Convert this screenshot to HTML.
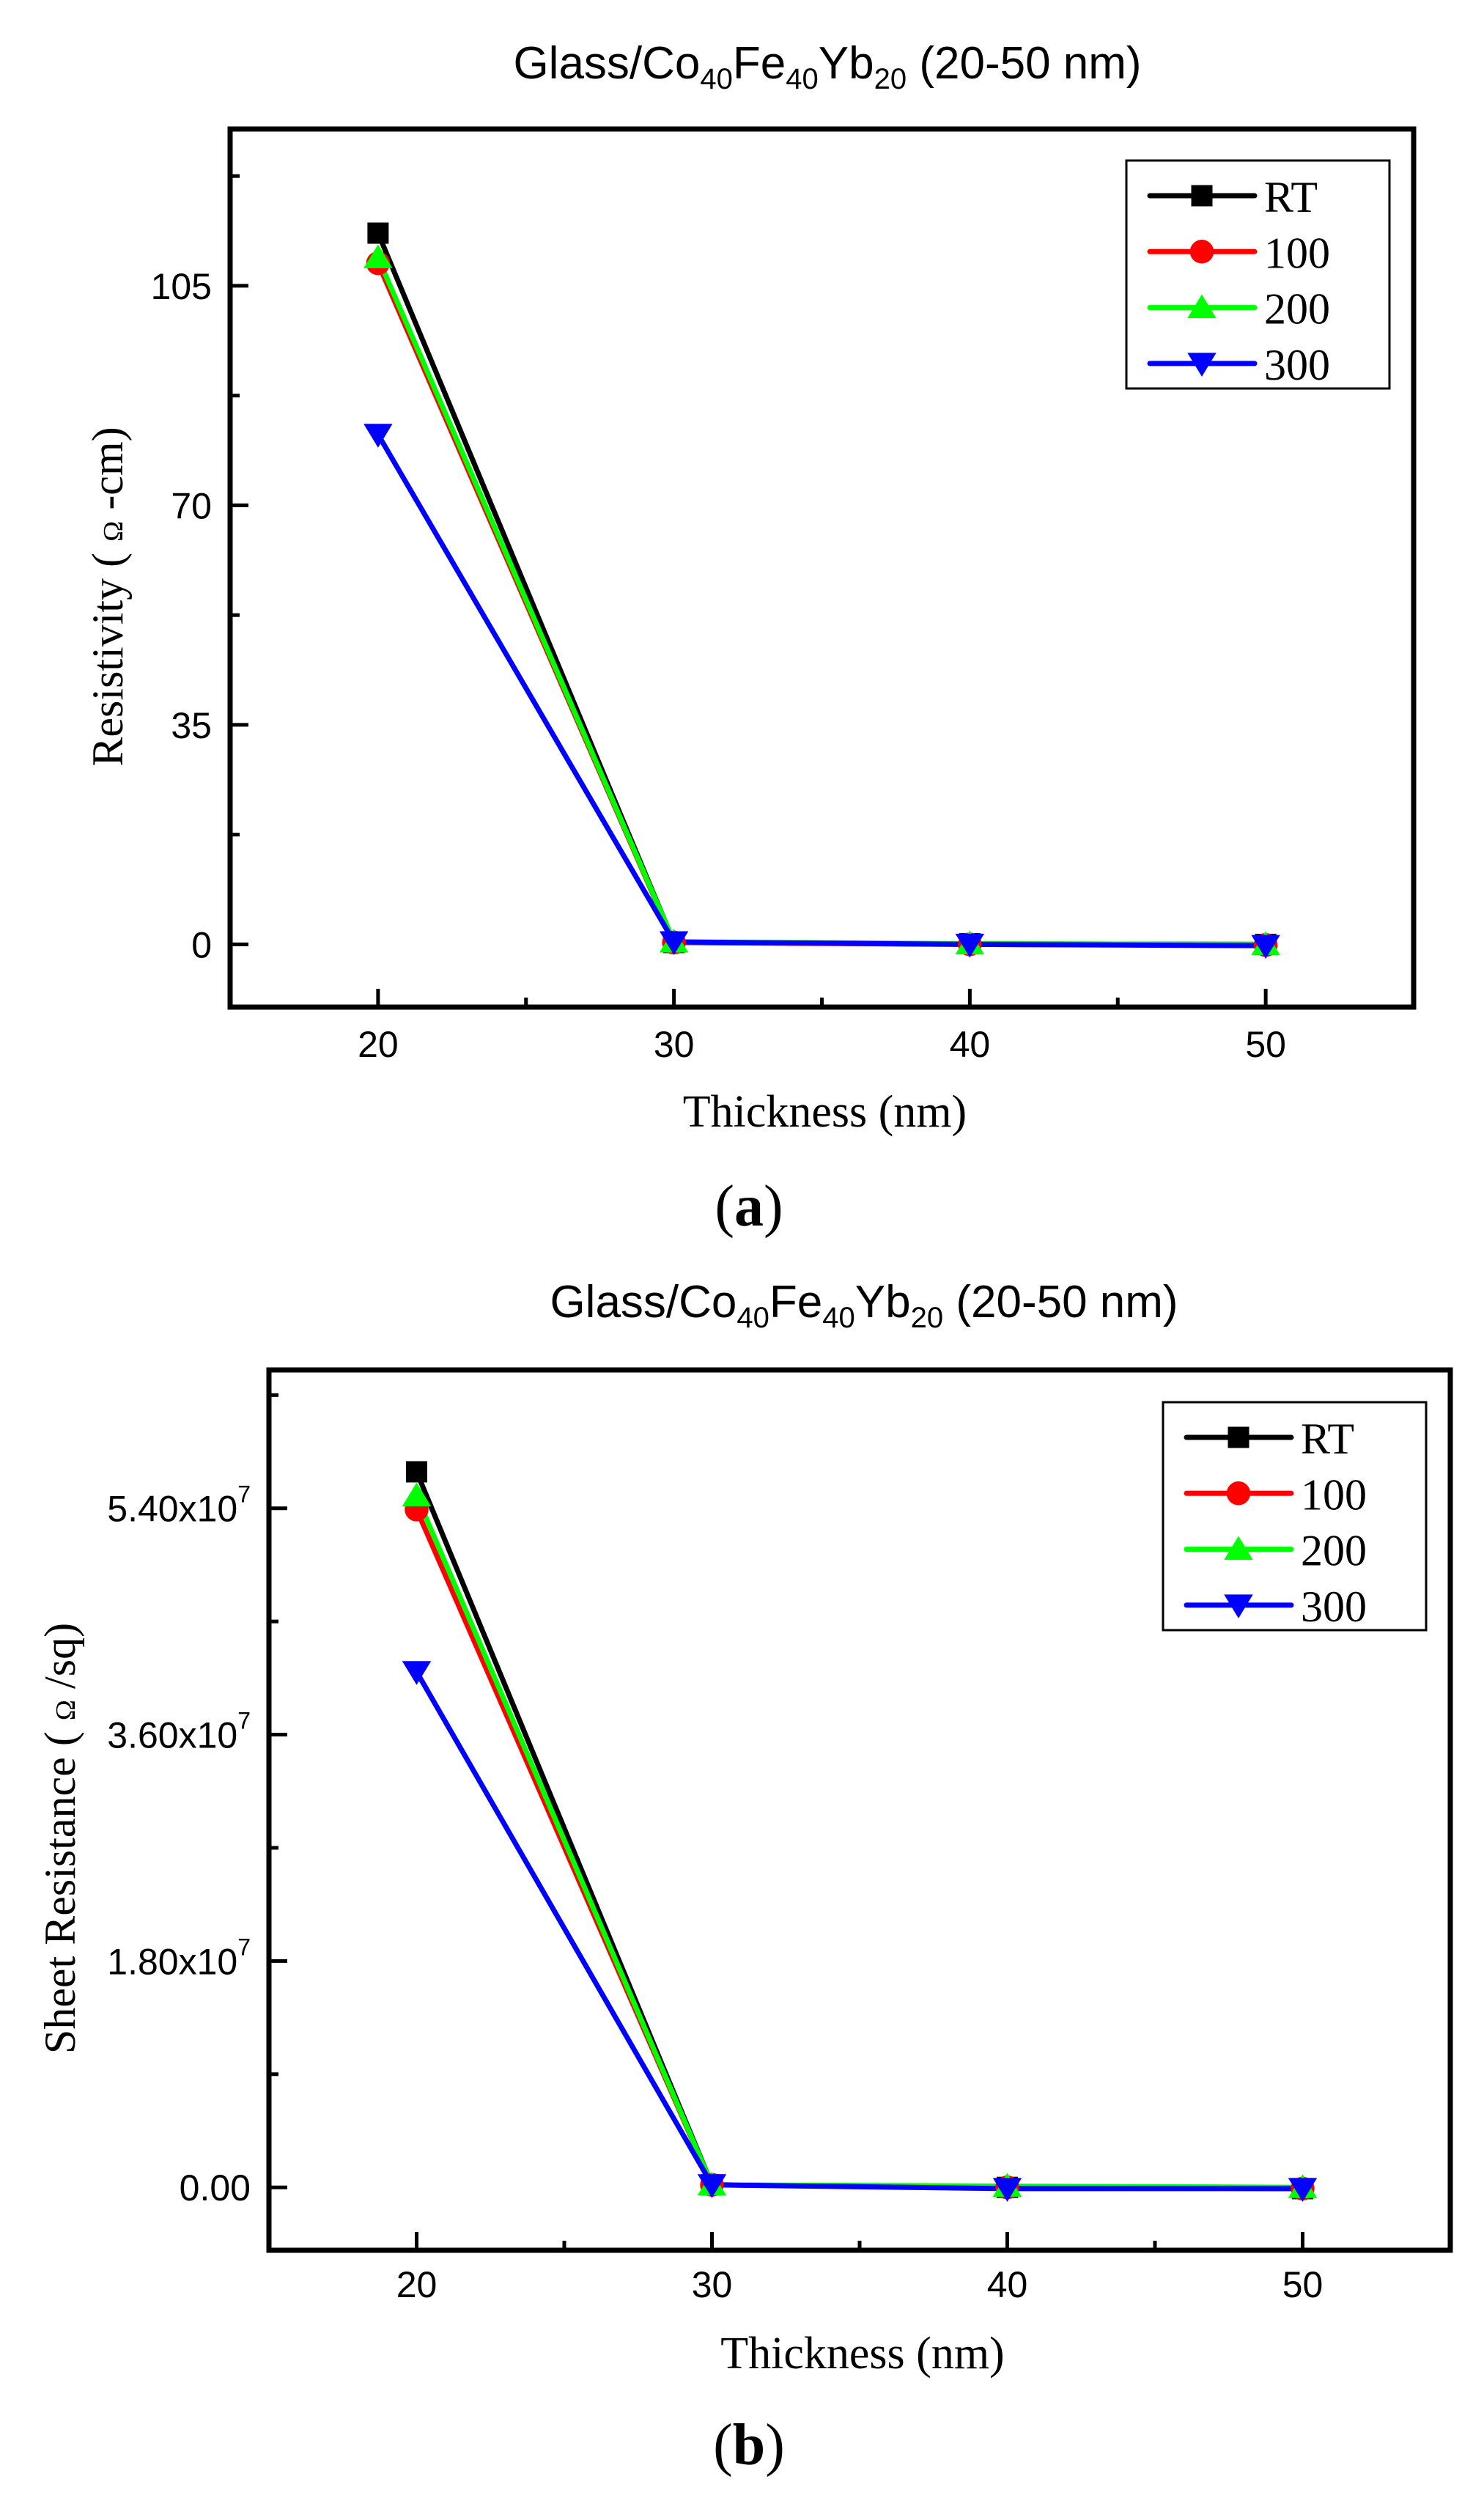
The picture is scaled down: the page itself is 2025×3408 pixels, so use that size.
<!DOCTYPE html>
<html><head><meta charset="utf-8">
<style>
html,body{margin:0;padding:0;background:#fff;}
svg{display:block;}
</style></head>
<body>
<svg id="fig" width="2025" height="3408" viewBox="0 0 2025 3408" xmlns="http://www.w3.org/2000/svg"></svg>
<script>
const thickness = [20, 30, 40, 50];
const seriesNames = ['RT', '100', '200', '300'];
const seriesColors = ['#000000', '#ff0000', '#00ff00', '#0000ff'];
const seriesMarkers = ['square', 'circle', 'up', 'down'];
const resRT  = [113.4, 0.3, 0.1, 0.0];
const res100 = [108.6, 0.3, 0.0, -0.1];
const res200 = [109.5, 0.4, 0.1, 0.0];
const res300 = [81.3, 0.4, 0.0, -0.2];
const sheetRT  = [5.69e7, 0.02e7, 0, -0.01e7];
const sheet100 = [5.39e7, 0.02e7, 0, -0.01e7];
const sheet200 = [5.50e7, 0.02e7, 0.01e7, 0];
const sheet300 = [4.10e7, 0.02e7, -0.01e7, -0.01e7];
const xTicks = [20, 30, 40, 50];
const resTicks = [0, 35, 70, 105];
const resTickLabels = ['0', '35', '70', '105'];
const sheetTicks = [0, 1.8e7, 3.6e7, 5.4e7];
const sheetTickMant = ['0.00', '1.80x10', '3.60x10', '5.40x10'];

const NS = 'http://www.w3.org/2000/svg';
const svg = document.getElementById('fig');
function mk(tag, attrs, parent){
  const e = document.createElementNS(NS, tag);
  for (const k in attrs) e.setAttribute(k, attrs[k]);
  (parent||svg).appendChild(e);
  return e;
}
function marker(g, type, cx, cy, color, s){
  let m;
  if (type === 'square') m = mk('rect', {x:cx-s/2, y:cy-s/2, width:s, height:s, fill:color}, g);
  else if (type === 'circle') m = mk('circle', {cx:cx, cy:cy, r:s*0.56, fill:color}, g);
  else if (type === 'up') m = mk('polygon', {points:`${cx},${cy-s*0.62} ${cx-s*0.68},${cy+s*0.5} ${cx+s*0.68},${cy+s*0.5}`, fill:color}, g);
  else m = mk('polygon', {points:`${cx},${cy+s*0.62} ${cx-s*0.68},${cy-s*0.5} ${cx+s*0.68},${cy-s*0.5}`, fill:color}, g);
  return m;
}

function drawChart(cfg){
  const P = cfg.plot;
  const g = mk('g', {});
  
  
  const xs = v => P.l + (v - cfg.xmin) / (cfg.xmax - cfg.xmin) * (P.r - P.l);
  const ys = v => P.b - (v - cfg.ymin) / (cfg.ymax - cfg.ymin) * (P.b - P.t);

  const t = mk('text', {x:cfg.titleX, y:cfg.titleY, 'font-family':'Liberation Sans, Arial, sans-serif', 'font-size':62, 'text-anchor':'middle', fill:'#000'}, g);
  
  
  t.innerHTML = 'Glass/Co<tspan font-size="40" dy="14">40</tspan><tspan dy="-14">Fe</tspan><tspan font-size="40" dy="14">40</tspan><tspan dy="-14">Yb</tspan><tspan font-size="40" dy="14">20</tspan><tspan dy="-14"> (20-50 nm)</tspan>';

  const sg = mk('g', {}, g);
  
  
  cfg.series.forEach((vals, i) => {
    const pts = vals.map((v, j) => xs(thickness[j]) + ',' + ys(v)).join(' ');
    const pl = mk('polyline', {points:pts, fill:'none', stroke:seriesColors[i], 'stroke-width':7, 'stroke-linejoin':'round'}, sg);
    
    
  });
  cfg.series.forEach((vals, i) => {
    vals.forEach((v, j) => {
      const m = marker(sg, seriesMarkers[i], xs(thickness[j]), ys(v), seriesColors[i], 29);
      
      
    });
  });

  const fr = mk('rect', {x:P.l, y:P.t, width:P.r-P.l, height:P.b-P.t, fill:'none', stroke:'#000', 'stroke-width':7}, g);
  
  

  const xa = mk('g', {}, g);
  
  
  for (let v = cfg.xmin + 5; v < cfg.xmax; v += 5){
    const major = xTicks.includes(v);
    mk('line', {x1:xs(v), x2:xs(v), y1:P.b, y2:P.b-(major?25:13), stroke:'#000', 'stroke-width':5}, xa);
  }
  xTicks.forEach(v => {
    const tl = mk('text', {x:xs(v), y:cfg.xLabelY, 'font-family':'Liberation Sans, Arial, sans-serif', 'font-size':50, 'text-anchor':'middle'}, xa);
    
    
    tl.textContent = v;
  });
  const xt = mk('text', {x:(P.l+P.r)/2 + 4, y:cfg.xTitleY, 'font-family':'Liberation Serif, Times New Roman, serif', 'font-size':62, 'text-anchor':'middle'}, xa);
  
  
  xt.textContent = 'Thickness (nm)';

  const ya = mk('g', {}, g);
  
  
  const step = cfg.yticks[1] - cfg.yticks[0];
  for (let k = -4; k < 20; k++){
    const v = k * step / 2;
    if (v <= cfg.ymin || v >= cfg.ymax) continue;
    const major = k % 2 === 0;
    mk('line', {x1:P.l, x2:P.l+(major?25:13), y1:ys(v), y2:ys(v), stroke:'#000', 'stroke-width':5}, ya);
  }
  cfg.yticks.forEach((v, i) => {
    const tl = mk('text', {x:P.l-25, y:ys(v)+18, 'font-family':'Liberation Sans, Arial, sans-serif', 'font-size':50, 'text-anchor':'end'}, ya);
    
    
    if (cfg.sci && i > 0) tl.innerHTML = cfg.ylabels[i] + '<tspan font-size="32" dy="-26">7</tspan>';
    else tl.textContent = cfg.ylabels[i];
  });
  const yt = mk('text', {x:0, y:0, transform:`translate(${cfg.yTitleX},${cfg.yTitleY}) rotate(-90)`, 'font-family':'Liberation Serif, Times New Roman, serif', 'font-size':60, 'text-anchor':'middle'}, ya);
  
  
  yt.innerHTML = cfg.yTitleA + '( <tspan font-size="38">Ω</tspan> ' + cfg.yTitleB;

  const L = cfg.legend;
  const lg = mk('g', {}, g);
  
  
  mk('rect', {x:L.x, y:L.y, width:359, height:311, fill:'#fff', stroke:'#000', 'stroke-width':3}, lg);
  seriesNames.forEach((n, i) => {
    const cy = L.y + 48 + i * 76.3;
    const e = mk('g', {}, lg);
    
    
    mk('line', {x1:L.x+32, x2:L.x+175, y1:cy, y2:cy, stroke:seriesColors[i], 'stroke-width':7, 'stroke-linecap':'round'}, e);
    marker(e, seriesMarkers[i], L.x+103, cy, seriesColors[i], 29);
    const lt = mk('text', {x:L.x+188, y:cy+22, 'font-family':'Liberation Serif, Times New Roman, serif', 'font-size':60}, e);
    lt.textContent = n;
  });

  const pl = mk('text', {x:cfg.panelX, y:cfg.panelY, 'font-family':'Liberation Serif, Times New Roman, serif', 'font-size':80, 'text-anchor':'middle'}, g);
  
  
  pl.innerHTML = '(<tspan font-weight="bold">' + cfg.panel + '</tspan>)';
}

drawChart({
  name:'resistivity-chart', plot:{l:314, r:1929, t:176, b:1374},
  xmin:15, xmax:55, ymin:-10, ymax:130,
  yticks:resTicks, ylabels:resTickLabels, sci:false,
  series:[resRT, res100, res200, res300],
  titleX:1129, titleY:107, xLabelY:1442, xTitleY:1537,
  yTitleX:167, yTitleY:814, yTitleA:'Resistivity ', yTitleB:'-cm)',
  legend:{x:1537, y:219}, panel:'a', panelX:1022, panelY:1672
});
drawChart({
  name:'sheet-resistance-chart', plot:{l:367, r:1979, t:1869, b:3070},
  xmin:15, xmax:55, ymin:-5e6, ymax:6.5e7,
  yticks:sheetTicks, ylabels:sheetTickMant, sci:true,
  series:[sheetRT, sheet100, sheet200, sheet300],
  titleX:1179, titleY:1797, xLabelY:3134, xTitleY:3231,
  yTitleX:102, yTitleY:2508, yTitleA:'Sheet Resistance ', yTitleB:'/sq)',
  legend:{x:1587, y:1913}, panel:'b', panelX:1022, panelY:3362
});
</script>
</body></html>
